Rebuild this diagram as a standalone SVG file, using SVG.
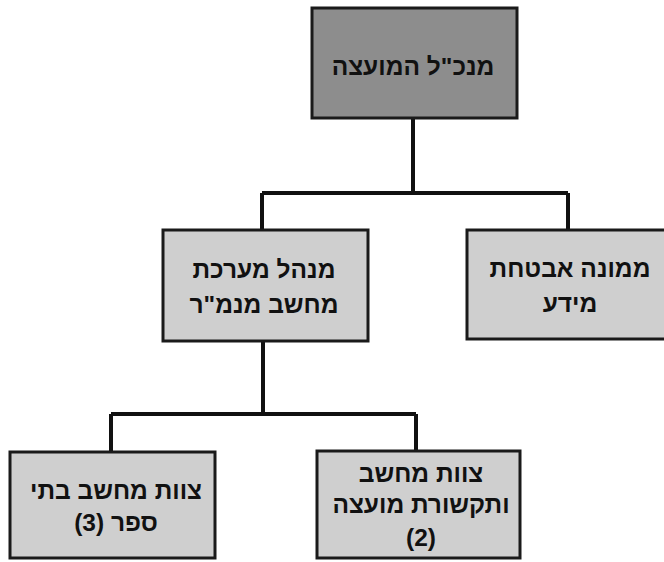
<svg xmlns="http://www.w3.org/2000/svg" width="664" height="562" viewBox="0 0 664 562">
<style>
.box{stroke:#1a1a1a;stroke-width:3}
.dark{fill:#8d8d8d}
.light{fill:#cfcfcf}
.t{font-family:"Liberation Sans","DejaVu Sans",sans-serif;font-weight:bold;font-size:24.5px;fill:#111;text-anchor:middle}
.c{fill:none;stroke:#111;stroke-width:4}
</style>
<rect width="664" height="562" fill="#fff"/>
<g id="connectors">
<path class="c" d="M413 118V193M262 193H568M262 193V230M568 193V230"/>
<path class="c" d="M263 342V414M111 414H416M111 414V451M416 414V451"/>
</g>
<g id="n-ceo">
<rect class="box dark" x="312" y="8" width="205" height="110"/>
<text class="t" x="413" y="75" direction="rtl">מנכ"ל המועצה</text>
</g>
<g id="n-mgr">
<rect class="box light" x="163" y="230" width="205" height="111"/>
<text class="t" x="264" y="278" direction="rtl">מנהל מערכת</text>
<text class="t" x="264" y="313" direction="rtl">מחשב מנמ"ר</text>
</g>
<g id="n-sec">
<rect class="box light" x="467" y="230" width="205" height="109"/>
<text class="t" x="570" y="277" direction="rtl">ממונה אבטחת</text>
<text class="t" x="570" y="312" direction="rtl">מידע</text>
</g>
<g id="n-school">
<rect class="box light" x="10" y="452" width="205" height="106"/>
<text class="t" x="116" y="499" direction="rtl">צוות מחשב בתי</text>
<text class="t" x="116" y="531" direction="rtl">ספר (3)</text>
</g>
<g id="n-council">
<rect class="box light" x="317" y="451" width="203" height="107"/>
<text class="t" x="421" y="482" direction="rtl">צוות מחשב</text>
<text class="t" x="421" y="513" direction="rtl">ותקשורת מועצה</text>
<text class="t" x="421" y="546" direction="rtl">(2)</text>
</g>
</svg>
